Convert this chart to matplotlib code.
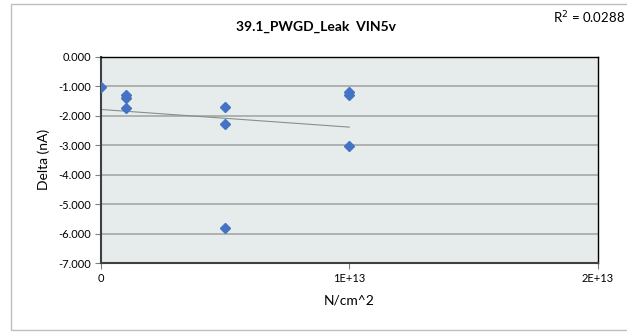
import matplotlib
matplotlib.use('Agg')
import matplotlib.pyplot as plt
from matplotlib.patches import Rectangle
import numpy as np

matplotlib.rcParams['font.family'] = ['Lato', 'DejaVu Sans']
matplotlib.rcParams['axes.unicode_minus'] = False

# fluence (N/cm^2) and delta leakage (nA)
fluence = [0, 1e12, 1e12, 1e12, 5e12, 5e12, 5e12, 1e13, 1e13, 1e13]
delta = [-1.02, -1.31, -1.40, -1.76, -1.70, -2.30, -5.80, -1.19, -1.31, -3.03]

yticks = [0, -1, -2, -3, -4, -5, -6, -7]
xticks = [0, 1e13, 2e13]
xtick_labels = ['0', '1E+13', '2E+13']

fig = plt.figure(figsize=(6.27, 3.33), dpi=100)
ax = fig.add_axes([0.1606, 0.2102, 0.7927, 0.6201])

# outer chart border
fig.patches.append(Rectangle((11 / 627, 1 - 330 / 333), 1.0, 326 / 333,
                             transform=fig.transFigure, fill=False,
                             edgecolor='#BFBFBF', lw=1.0))

ax.set_facecolor('#E6ECEC')
ax.plot(fluence, delta, 'D', color='#4472C4', markersize=4.6, zorder=3)

# linear trendline
x = np.array(fluence)
y = np.array(delta)
k, b = np.polyfit(x, y, 1)
xl = np.array([x.min(), x.max()])
ax.plot(xl, k * xl + b, color='#8C8C8C', lw=0.8, zorder=2)

ax.set_xlim(0, 2e13)
ax.set_ylim(-7, 0)
ax.set_yticks(yticks)
ax.set_yticklabels(['%.3f' % v for v in yticks])
ax.set_xticks(xticks)
ax.set_xticklabels(xtick_labels)
ax.grid(axis='y', color='#A0A0A0', lw=1.1)
ax.set_axisbelow(True)
ax.tick_params(labelsize=8, length=4, width=0.8, color='#808080', pad=3)

for s in ['left', 'bottom']:
    ax.spines[s].set_color('#404040')
    ax.spines[s].set_linewidth(1.5)
for s in ['top', 'right']:
    ax.spines[s].set_color('black')
    ax.spines[s].set_linewidth(1.0)

ax.set_ylabel('Delta (nA)', fontsize=10, labelpad=6)
ax.set_xlabel('N/cm^2', fontsize=10, labelpad=8)
fig.text(0.504, 0.918, '39.1_PWGD_Leak  VIN5v', ha='center', va='center',
         fontsize=10, fontweight='bold')
fig.text(0.882, 0.946, 'R$^2$ = 0.0288', ha='left', va='center', fontsize=9.5)

fig.savefig('out.png', dpi=100)
